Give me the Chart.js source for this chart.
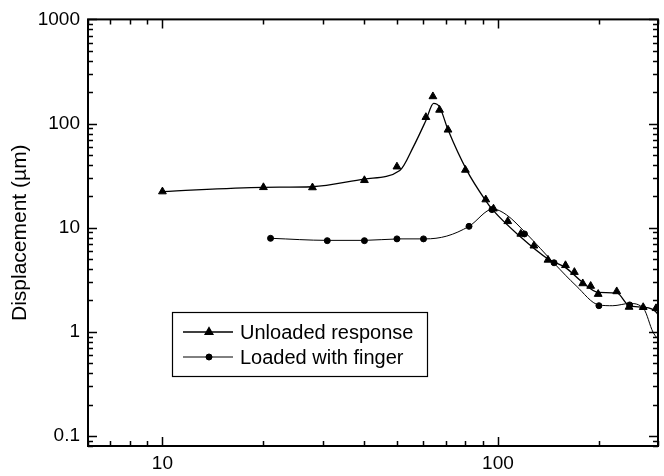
<!DOCTYPE html>
<html>
<head>
<meta charset="utf-8">
<script src="https://cdn.jsdelivr.net/npm/chart.js@4.4.1/dist/chart.umd.min.js"></script>
<style>
  html, body { margin: 0; padding: 0; background: #fff; }
  #wrap { width: 664px; height: 476px; position: relative; }
</style>
</head>
<body>
<div id="wrap"><canvas id="chart"></canvas></div>
<script>
// ── Data (frequency in Hz, displacement in µm) ─────────────
var unloadedFreq = [10, 20, 28, 40, 50, 61, 64, 67, 71, 80, 92, 97, 107, 117, 128, 141, 159, 169, 179, 189, 199, 226, 246, 271, 296];
var unloadedDisp = [22.2, 24.4, 24.3, 28.5, 38.5, 115, 182, 135, 87, 35.8, 18.6, 15.2, 11.5, 8.7, 6.7, 4.9, 4.35, 3.74, 2.91, 2.75, 2.30, 2.44, 1.73, 1.72, 1.68];

var loadedFreq = [21, 31, 40, 50, 60, 82, 96, 120, 147, 200, 247];
var loadedDisp = [7.9, 7.5, 7.5, 7.8, 7.8, 10.3, 14.9, 8.7, 4.6, 1.78, 1.81];

// smoothed fit curves
var unloadedCurveX = [10, 20, 28, 40, 51, 56, 61, 64.3, 67, 71, 80.7, 91.6, 96.5, 116, 141, 159, 179, 199, 226, 246, 271, 296, 310];
var unloadedCurveY = [22.2, 24.4, 24.7, 29.3, 35.4, 60, 107, 156, 144, 87, 35.7, 18.5, 14.8, 8.3, 5.0, 4.13, 2.97, 2.39, 2.36, 1.78, 1.72, 1.55, 1.2];

var loadedCurveX = [21.1, 31, 40, 50.8, 60.7, 70.4, 82, 96.7, 106, 121, 148, 171, 200, 220, 247, 272, 290, 305];
var loadedCurveY = [7.9, 7.55, 7.55, 7.8, 7.8, 8.3, 10.3, 15.1, 13.3, 8.9, 4.45, 2.77, 1.81, 1.78, 1.87, 1.66, 0.99, 0.8];

var seriesLabels = ['Unloaded response', 'Loaded with finger'];

var xTickVals = [10, 100];
var xTickLabels = ['10', '100'];
var yTickVals = [0.1, 1, 10, 100, 1000];
var yTickLabels = ['0.1', '1', '10', '100', '1000'];
var yTitle = 'Displacement (µm)';

function pts(xs, ys) {
    return xs.map(function (x, i) { return { x: x, y: ys[i] }; });
}

// minor tick values per decade (axis decoration only)
function minorTicks(lo, hi) {
    var out = [];
    for (var d = -2; d <= 3; d++) {
        for (var m = 1; m <= 9; m++) {
            var v = m * Math.pow(10, d);
            if (v >= lo * 0.999 && v <= hi * 1.001) out.push(v);
        }
    }
    return out;
}

Chart.defaults.font.family = '"Liberation Sans", Arial, sans-serif';
Chart.defaults.color = '#000';

// ── Frame with inward ticks + boxed legend ─────────────────
var framePlugin = {
    id: 'frame',
    afterDraw: function (chart) {
        var ctx = chart.ctx, a = chart.chartArea;
        var xs = chart.scales.x, ys = chart.scales.y;
        ctx.save();
        ctx.strokeStyle = '#000';
        ctx.lineWidth = 1.5;
        ctx.beginPath();
        minorTicks(xs.min, xs.max).forEach(function (v) {
            var px = Math.round(xs.getPixelForValue(v)) + 0.5;
            var len = (xTickVals.indexOf(v) >= 0) ? 9 : 5;
            ctx.moveTo(px, a.bottom); ctx.lineTo(px, a.bottom - len);
            ctx.moveTo(px, a.top); ctx.lineTo(px, a.top + len);
        });
        minorTicks(ys.min, ys.max).forEach(function (v) {
            var py = Math.round(ys.getPixelForValue(v)) + 0.5;
            var len = (yTickVals.some(function (t) { return Math.abs(t - v) < t * 1e-6; })) ? 9 : 5;
            ctx.moveTo(a.left, py); ctx.lineTo(a.left + len, py);
            ctx.moveTo(a.right, py); ctx.lineTo(a.right - len, py);
        });
        ctx.stroke();
        ctx.lineWidth = 2;
        ctx.strokeRect(a.left, a.top, a.right - a.left, a.bottom - a.top);

        // legend box
        var bx = 172, by = 312, bw = 255, bh = 64;
        ctx.fillStyle = '#fff';
        ctx.fillRect(bx, by, bw, bh);
        ctx.lineWidth = 1.2;
        ctx.strokeRect(bx + 0.5, by + 0.5, bw, bh);
        var rows = [
            { y: 332, ds: chart.data.datasets[0], mark: 'triangle', r: 4.5 },
            { y: 357, ds: chart.data.datasets[2], mark: 'circle', r: 3 }
        ];
        rows.forEach(function (row) {
            ctx.strokeStyle = '#000';
            ctx.lineWidth = row.ds.borderWidth;
            ctx.beginPath();
            ctx.moveTo(183, row.y); ctx.lineTo(233, row.y);
            ctx.stroke();
            Chart.helpers.drawPoint(ctx, { pointStyle: row.mark, radius: row.r, borderWidth: 1, rotation: 0 }, 209, row.y);
            ctx.fillStyle = '#000';
            ctx.fill();
            ctx.font = '20px "Liberation Sans", Arial, sans-serif';
            ctx.textBaseline = 'middle';
            ctx.textAlign = 'left';
            ctx.fillText(row.ds.label, 240, row.y + 1);
        });
        ctx.restore();
    }
};

new Chart(document.getElementById('chart'), {
    type: 'scatter',
    data: {
        datasets: [
            {
                label: seriesLabels[0], data: pts(unloadedCurveX, unloadedCurveY),
                showLine: true, pointRadius: 0, borderColor: '#000', borderWidth: 1.3,
                cubicInterpolationMode: 'monotone'
            },
            {
                label: seriesLabels[0] + ' (data)', data: pts(unloadedFreq, unloadedDisp),
                showLine: false, pointStyle: 'triangle', pointRadius: 4.5,
                backgroundColor: '#000', borderColor: '#000', borderWidth: 1
            },
            {
                label: seriesLabels[1], data: pts(loadedCurveX, loadedCurveY),
                showLine: true, pointRadius: 0, borderColor: '#000', borderWidth: 1,
                cubicInterpolationMode: 'monotone'
            },
            {
                label: seriesLabels[1] + ' (data)', data: pts(loadedFreq, loadedDisp),
                showLine: false, pointStyle: 'circle', pointRadius: 3,
                backgroundColor: '#000', borderColor: '#000', borderWidth: 1
            }
        ]
    },
    options: {
        responsive: true,
        maintainAspectRatio: false,
        animation: false,
        layout: { padding: { top: 15, right: 6, left: 0, bottom: 0 } },
        plugins: { legend: { display: false }, tooltip: { enabled: false } },
        scales: {
            x: {
                type: 'logarithmic', min: 6, max: 300,
                grid: { display: false, drawTicks: false },
                border: { display: false },
                afterBuildTicks: function (s) { s.ticks = xTickVals.map(function (v) { return { value: v }; }); },
                afterFit: function (s) { s.height = 30; },
                ticks: {
                    padding: 6, maxRotation: 0, font: { size: 19 },
                    callback: function (v) { return xTickLabels[xTickVals.indexOf(v)]; }
                }
            },
            y: {
                type: 'logarithmic', min: 0.08, max: 1000,
                grid: { display: false, drawTicks: false },
                border: { display: false },
                afterBuildTicks: function (s) { s.ticks = yTickVals.map(function (v) { return { value: v }; }); },
                afterFit: function (s) { s.width = 88; },
                title: { display: true, text: yTitle, font: { size: 21 }, padding: { top: 8, bottom: 0 } },
                ticks: {
                    padding: 8, font: { size: 19 },
                    callback: function (v) {
                        var i = yTickVals.findIndex(function (t) { return Math.abs(t - v) < t * 1e-6; });
                        return i >= 0 ? yTickLabels[i] : '';
                    }
                }
            }
        }
    },
    plugins: [framePlugin]
});
</script>
</body>
</html>
